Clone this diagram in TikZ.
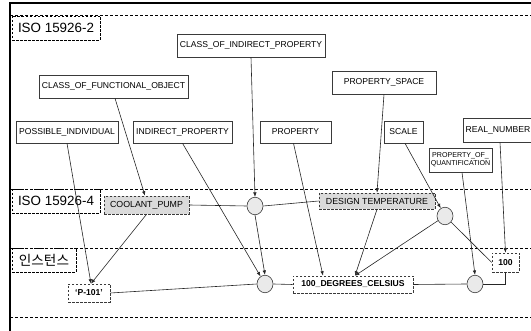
\documentclass[tikz,border=0pt]{standalone}
\usepackage{fontspec}
\setmainfont{Liberation Sans}
\newfontfamily\krfont{Noto Sans CJK KR}
\usetikzlibrary{shapes.geometric,arrows.meta}

\definecolor{boxline}{HTML}{3A3A3A}
\definecolor{instfill}{HTML}{DADADA}
\definecolor{dotfill}{HTML}{EAEAEA}

\tikzset{
  layerlabel/.style={draw=black, dashed, dash pattern=on 2.5pt off 1.5pt, line width=0.6pt,
    inner sep=0pt, font=\fontsize{13.4}{14}\selectfont},
  classbox/.style={draw=boxline, line width=0.6pt, fill=white, inner sep=0pt,
    font=\fontsize{8.6}{9}\selectfont},
  typebox/.style={draw=boxline, fill=instfill, dashed, dash pattern=on 2.5pt off 1.5pt,
    line width=0.6pt, inner sep=0pt, font=\fontsize{8.8}{9}\selectfont},
  instbox/.style={draw=boxline, fill=white, dashed, dash pattern=on 2.5pt off 1.5pt,
    line width=0.6pt, inner sep=0pt, font=\fontsize{8.6}{9}\selectfont\bfseries},
  relnode/.style={ellipse, draw=boxline, fill=dotfill, line width=0.6pt, inner sep=0pt,
    minimum width=16pt, minimum height=17.5pt},
  link/.style={draw=black!85, line width=0.6pt},
  arrowlink/.style={link, -{Latex[length=4.5pt,width=3.5pt]}},
  layersep/.style={draw=black, line width=0.7pt, dash pattern=on 3pt off 2pt},
}

\begin{document}
\begin{tikzpicture}[x=1pt, y=-1pt]
  \useasboundingbox (0,0) rectangle (531,331);
  \clip (0,0) rectangle (531,331);

  % outer frame
  \draw[line width=1.6pt] (10,3) rectangle (545,345);

  % layer separators
  \draw[layersep] (10,15) -- (531,15);
  \draw[layersep] (10,189) -- (531,189);
  \draw[layersep] (10,248) -- (531,248);
  \draw[layersep] (10,317) -- (531,317);

  % layer labels
  \node[layerlabel, minimum width=88pt, minimum height=24pt] (iso2) at (56,28) {ISO 15926-2};
  \node[layerlabel, minimum width=88pt, minimum height=24pt] (iso4) at (56,201) {ISO 15926-4};
  \node[layerlabel, minimum width=64pt, minimum height=24pt, font=\krfont\fontsize{13.6}{14}\selectfont] (inst) at (44,260) {인스턴스};

  % ISO 15926-2 classes
  \node[classbox, minimum width=148pt, minimum height=23pt] (coip) at (251,45.5) {CLASS\_OF\_INDIRECT\_PROPERTY};
  \node[classbox, minimum width=149pt, minimum height=23pt] (cofo) at (113.5,86.5) {CLASS\_OF\_FUNCTIONAL\_OBJECT};
  \node[classbox, minimum width=104pt, minimum height=23pt] (pspace) at (384,82.5) {PROPERTY\_SPACE};
  \node[classbox, minimum width=102pt, minimum height=22pt] (posind) at (67,132) {POSSIBLE\_INDIVIDUAL};
  \node[classbox, minimum width=99pt, minimum height=22pt] (indprop) at (182.5,132) {INDIRECT\_PROPERTY};
  \node[classbox, minimum width=71pt, minimum height=22pt] (prop) at (295.5,132) {PROPERTY};
  \node[classbox, minimum width=39pt, minimum height=22pt] (scale) at (403.5,132) {SCALE};
  \node[classbox, minimum width=70pt, minimum height=24pt] (realnum) at (498,130) {REAL\_NUMBER};
  \node[classbox, minimum width=63pt, minimum height=24pt, align=center,
        font=\fontsize{7.1}{8}\selectfont] (poq) at (460.5,160) {PROPERTY\_OF\_\\QUANTIFICATION};

  % ISO 15926-4 reference data
  \node[typebox, minimum width=85pt, minimum height=18pt] (coolant) at (146.5,205) {COOLANT\_PUMP};
  \node[relnode] (c1) at (255,206) {};
  \node[typebox, minimum width=116pt, minimum height=16pt] (design) at (377,201) {DESIGN TEMPERATURE};
  \node[relnode] (c2) at (445,216) {};

  % instances
  \node[instbox, minimum width=42pt, minimum height=18pt] (p101) at (89,293) {‘P-101’};
  \node[relnode] (c3) at (265,284) {};
  \node[instbox, minimum width=120pt, minimum height=17pt] (deg) at (353,284.5) {100\_DEGREES\_CELSIUS};
  \node[relnode] (c4) at (475,284) {};
  \node[instbox, minimum width=27pt, minimum height=19pt] (hundred) at (505.5,262.5) {100};

  % classification arrows
  \draw[arrowlink] ([xshift=1.5pt]cofo.south) -- ([xshift=-1.5pt]coolant.north);
  \draw[arrowlink] (coolant.south) -- ([xshift=2pt]p101.north);
  \draw[arrowlink] (posind.south) -- ([xshift=2pt]p101.north);
  \draw[arrowlink] (indprop.south) -- (c3);
  \draw[arrowlink] (coip.south) -- (c1.north);
  \draw[arrowlink] (c1.south) -- (c3.north);
  \draw[arrowlink] ([xshift=-2pt]prop.south) -- ([xshift=-30pt]deg.north);
  \draw[arrowlink] (pspace.south) -- (design.north);
  \draw[arrowlink] (design.south) -- ([xshift=2pt]deg.north);
  \draw[arrowlink] (c2) -- ([xshift=2pt]deg.north);
  \draw[arrowlink] ([xshift=1.5pt]scale.south) -- (c2);
  \draw[arrowlink] ([xshift=1.5pt]poq.south) -- (c4.north);
  \draw[arrowlink] ([xshift=2pt]realnum.south) -- (hundred.north);

  % relationship links
  \draw[link] (coolant.east) -- (c1.west);
  \draw[link] (c1.east) -- (design.west);
  \draw[link] (c2) -- (hundred.west);
  \draw[link] (p101.east) -- (c3.west);
  \draw[link] (c3.east) -- (deg.west);
  \draw[link] (deg.east) -- (c4.west);
  \draw[link] (c4.east) -| (hundred.south);
\end{tikzpicture}
\end{document}
